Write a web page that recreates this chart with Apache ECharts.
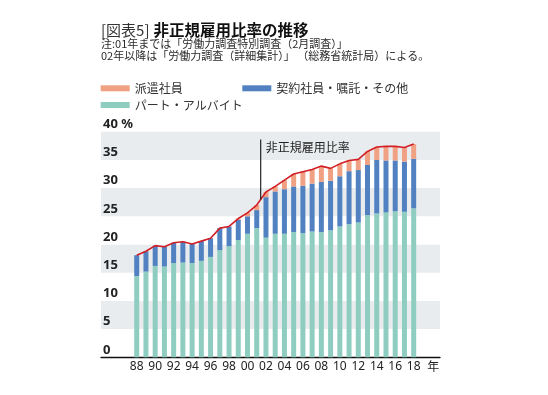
<!DOCTYPE html>
<html>
<head>
<meta charset="utf-8">
<script src="https://cdn.jsdelivr.net/npm/echarts@6/dist/echarts.min.js"></script>
<style>html,body{margin:0;padding:0;background:#fff;}#c{width:548px;height:395px;}</style>
</head>
<body>
<div id="c"></div>
<script>
const years = ['1988','1989','1990','1991','1992','1993','1994','1995','1996','1997','1998','1999','2000','2001','2002','2003','2004','2005','2006','2007','2008','2009','2010','2011','2012','2013','2014','2015','2016','2017','2018'];
// パート・アルバイト (%)
const partTime = [14.4,15.2,16.2,16.1,16.7,16.8,16.7,17.1,17.8,19.0,19.7,20.8,21.9,22.9,21.2,21.9,21.9,22.2,22.0,22.3,22.2,22.5,23.2,23.6,23.9,25.2,25.5,25.7,25.9,25.8,26.4];
// 契約社員・嘱託・その他 (%)
const contract = [3.7,3.6,3.6,3.5,3.6,3.7,3.4,3.5,3.3,3.9,3.5,3.6,3.1,3.2,7.2,7.5,7.9,8.1,8.4,8.5,8.9,8.8,8.9,9.4,9.3,8.9,9.5,9.2,9.0,8.9,8.8];
// 派遣社員 (%)
const dispatch = [0,0,0,0,0,0,0,0,0,0,0,0.2,0.6,0.9,0.9,0.9,1.6,2.2,2.5,2.5,2.8,2.2,2.2,1.9,1.9,2.4,2.3,2.5,2.5,2.5,2.6];
// 非正規雇用比率 (%)
const totalRatio = [18.1,18.8,19.8,19.6,20.3,20.5,20.1,20.6,21.1,22.9,23.2,24.6,25.6,27.0,29.3,30.3,31.4,32.5,32.9,33.3,33.9,33.5,34.3,34.9,35.1,36.5,37.3,37.4,37.4,37.2,37.8];

const titleMain = '非正規雇用比率の推移';
const titleTag = '[図表5]';
const noteLines = ['注:01年までは「労働力調査特別調査（2月調査）」', '02年以降は「労働力調査（詳細集計）」 （総務省統計局）による。'];
const lineLabel = '非正規雇用比率';
const yearUnit = '年';

const COL_PART = '#8fcdc1', COL_CONTRACT = '#5181c1', COL_DISPATCH = '#f0a183', COL_LINE = '#d21f26';
const JP = '"Noto Sans CJK JP", "Noto Sans", sans-serif';
const LAT = '"Noto Sans", "DejaVu Sans", sans-serif';

const chart = echarts.init(document.getElementById('c'), null, {renderer: 'canvas'});
const legendCommon = {icon: 'rect', itemWidth: 29, itemHeight: 6, padding: 0, itemGap: 0, selectedMode: false,
  textStyle: {fontSize: 12, color: '#333', fontFamily: JP, lineHeight: 14}};

const option = {
  animation: false,
  backgroundColor: '#fff',
  textStyle: {fontFamily: JP},
  title: [
    {text: '{a|' + titleTag + '}{b|' + titleMain + '}', left: 101, top: 22.5, padding: 0,
     textStyle: {rich: {a: {fontSize: 15, lineHeight: 16, color: '#333', fontFamily: JP, fontWeight: 'normal', padding: [0, 4, 0, 0]},
                        b: {fontSize: 15.5, lineHeight: 16, color: '#111', fontFamily: JP, fontWeight: 'bold'}}}},
    {text: noteLines.join('\n'), left: 101, top: 37.8, padding: 0,
     textStyle: {fontSize: 11, lineHeight: 11.8, color: '#2a2a2a', fontWeight: 'normal', fontFamily: JP}}
  ],
  legend: [
    Object.assign({data: ['派遣社員'], left: 100.7, top: 81.3}, legendCommon),
    Object.assign({data: ['契約社員・嘱託・その他'], left: 242.3, top: 81.3}, legendCommon),
    Object.assign({data: ['パート・アルバイト'], left: 100.7, top: 98}, legendCommon)
  ],
  grid: [
    {left: 101, right: 108, top: 131.7, bottom: 37.7},
    {left: 132.1, right: 129.7, top: 131.7, bottom: 37.7}
  ],
  xAxis: [
    {gridIndex: 0, type: 'value', min: 0, max: 1, axisLine: {show: true, onZero: false, lineStyle: {color: '#111', width: 1.3}},
     axisTick: {show: false}, axisLabel: {show: false}, splitLine: {show: false}},
    {gridIndex: 1, type: 'category', data: years, axisLine: {show: false}, axisTick: {show: false},
     axisLabel: {interval: 1, formatter: v => v.slice(2), fontSize: 12, color: '#222', margin: 3, fontFamily: LAT}}
  ],
  yAxis: [
    {gridIndex: 0, type: 'value', min: 0, max: 40, interval: 5, axisLine: {show: false}, axisTick: {show: false},
     splitLine: {show: false}, splitArea: {show: true, areaStyle: {color: ['#ffffff', '#e9ecee']}},
     axisLabel: {inside: true, margin: 2, verticalAlign: 'bottom', fontSize: 13, fontWeight: 'bold', color: '#222',
                 fontFamily: LAT, padding: [0, 0, 1, 0], formatter: v => v === 40 ? '40 %' : String(v)}},
    {gridIndex: 1, type: 'value', min: 0, max: 40, interval: 5, show: false}
  ],
  series: [
    {name: 'パート・アルバイト', type: 'bar', xAxisIndex: 1, yAxisIndex: 1, stack: 'all', barWidth: 5, data: partTime, itemStyle: {color: COL_PART}},
    {name: '契約社員・嘱託・その他', type: 'bar', xAxisIndex: 1, yAxisIndex: 1, stack: 'all', barWidth: 5, data: contract, itemStyle: {color: COL_CONTRACT}},
    {name: '派遣社員', type: 'bar', xAxisIndex: 1, yAxisIndex: 1, stack: 'all', barWidth: 5, data: dispatch, itemStyle: {color: COL_DISPATCH}},
    {name: lineLabel, type: 'line', xAxisIndex: 1, yAxisIndex: 1, data: totalRatio, symbol: 'none', z: 5,
     lineStyle: {color: COL_LINE, width: 1.6}}
  ]
};
chart.setOption(option);

// annotation: leader line from label down to the ratio line between 2001 and 2002
const iA = years.indexOf('2001'), iB = years.indexOf('2002');
const pA = chart.convertToPixel({gridIndex: 1}, [iA, totalRatio[iA]]);
const pB = chart.convertToPixel({gridIndex: 1}, [iB, totalRatio[iB]]);
const t = 0.43;
const ax = pA[0] + (pB[0] - pA[0]) * t;
const ay = pA[1] + (pB[1] - pA[1]) * t;
const topY = chart.convertToPixel({gridIndex: 1}, [iA, 38.6])[1];
const lastX = chart.convertToPixel({gridIndex: 1}, [years.length - 1, 0]);
chart.setOption({
  graphic: [
    {type: 'line', shape: {x1: ax, y1: topY, x2: ax, y2: ay}, style: {stroke: '#111', lineWidth: 1.1}, z: 10},
    {type: 'text', x: ax + 5, y: topY + 8, style: {text: lineLabel, fontSize: 12, fill: '#222', fontFamily: JP, textAlign: 'left', textVerticalAlign: 'middle'}, z: 10},
    {type: 'text', x: lastX[0] + 19.5, y: lastX[1] + 9, style: {text: yearUnit, fontSize: 12, fill: '#222', fontFamily: JP, textAlign: 'center', textVerticalAlign: 'middle'}, z: 10}
  ]
});
</script>
</body>
</html>
